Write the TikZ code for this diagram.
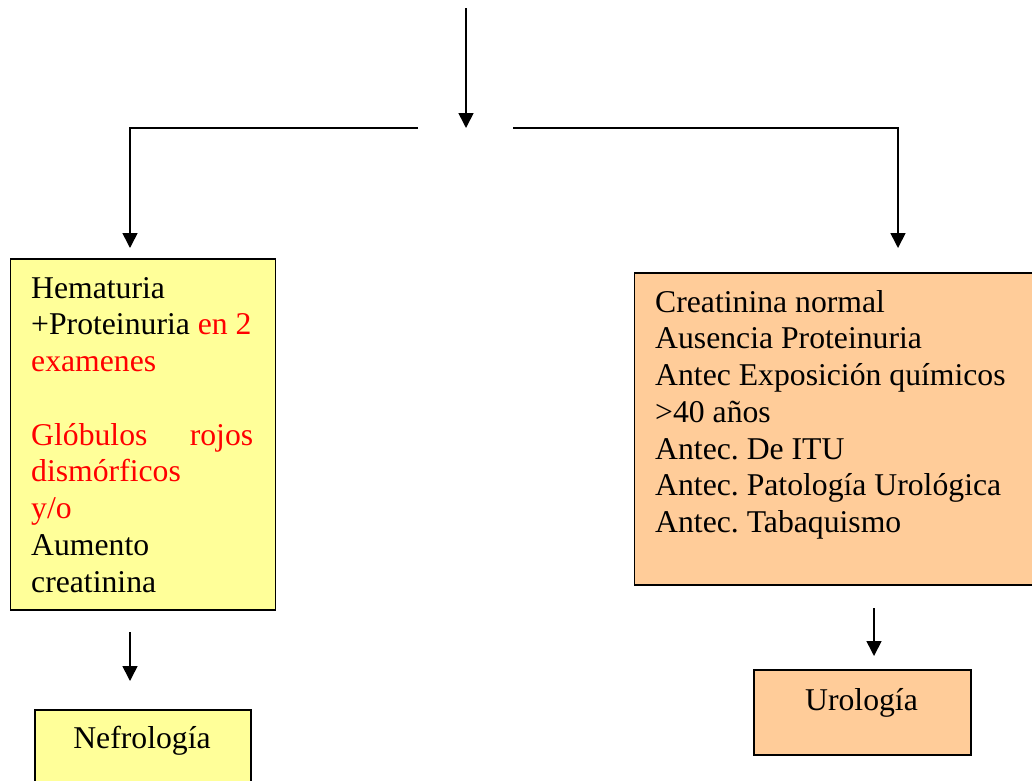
\documentclass[tikz,border=0pt]{standalone}
\usepackage{fontspec}
\setmainfont{Liberation Serif}
\usetikzlibrary{arrows.meta}
\definecolor{boxyellow}{HTML}{FFFF99}
\definecolor{boxorange}{HTML}{FFCC99}
\frenchspacing
\begin{document}
\begin{tikzpicture}[x=1pt,y=-1pt,
  conn/.style={line width=1.6pt,-{Triangle[width=15pt,length=15pt]}},
  ybox/.style={draw=black,line width=1.8pt,fill=boxyellow,inner sep=0pt,anchor=north west},
  obox/.style={draw=black,line width=1.8pt,fill=boxorange,inner sep=0pt,anchor=north west},
  txt/.style={inner sep=0pt,anchor=north west,align=left,font=\fontsize{31.7}{36.75}\selectfont},
  lbl/.style={inner sep=0pt,anchor=base,font=\fontsize{31.7}{36.75}\selectfont}]
\useasboundingbox (0,0) rectangle (1032,780);
\begin{scope}
\clip (0,0) rectangle (1032,780);
% boxes
\node[ybox,minimum width=265pt,minimum height=351pt] (hbox) at (9.5,258) {};
\node[obox,minimum width=410pt,minimum height=312pt] (cbox) at (633.5,272) {};
\node[ybox,minimum width=216pt,minimum height=100pt] (nbox) at (34,709) {};
\node[obox,minimum width=217pt,minimum height=85pt] (ubox) at (753,669) {};
\end{scope}
% texts
\node[txt] (htxt) at (31,277) {Hematuria\\
+Proteinuria \textcolor{red}{en 2}\\
\textcolor{red}{examenes}\\[36.75pt]
\textcolor{red}{\hbox to 222pt{Glóbulos\hfill rojos}}\\
\textcolor{red}{dismórficos}\\
\textcolor{red}{y/o}\\
Aumento\\
creatinina};
\node[txt] (ctxt) at (655,290) {Creatinina normal\\
Ausencia Proteinuria\\
Antec Exposición químicos\\
>40 años\\
Antec. De ITU\\
Antec. Patología Urológica\\
Antec. Tabaquismo};
\node[lbl] (ntxt) at (142,748) {Nefrología};
\node[lbl] (utxt) at (861.5,710) {Urología};
% connector coordinates
\coordinate (top) at (466,8);
\coordinate (split) at (466,128);
\coordinate (lgap) at (418,128);
\coordinate (rgap) at (513,128);
\coordinate (ltip) at (130,248);
\coordinate (rtip) at (898,248);
\coordinate (lstart) at (130,632);
\coordinate (ltip2) at (130,681);
\coordinate (rstart) at (874,608);
\coordinate (rtip2) at (874,656);
% connectors
\draw[conn] (top) -- (split);
\draw[conn] (lgap) -| (ltip);
\draw[conn] (rgap) -| (rtip);
\draw[conn] (lstart) -- (ltip2);
\draw[conn] (rstart) -- (rtip2);
\end{tikzpicture}
\end{document}
